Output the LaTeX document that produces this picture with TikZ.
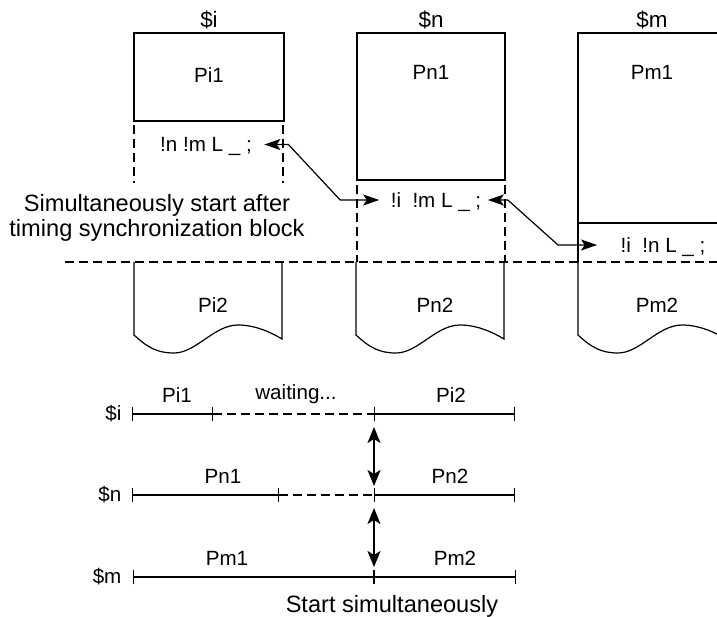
\documentclass[tikz,border=0pt]{standalone}
\usepackage{fontspec}
\setmainfont{Liberation Sans}
\usetikzlibrary{arrows.meta}
\tikzset{lbl/.style={font=\fontsize{10.3}{12}\selectfont,inner sep=0pt},
 col/.style={font=\fontsize{11.2}{13}\selectfont,inner sep=0pt,anchor=base},
 stmt/.style={lbl,text height=7.3pt,text depth=0pt},
 big/.style={font=\fontsize{11.8}{12.5}\selectfont,inner sep=0pt,align=center},
 wait/.style={dash pattern=on 4.5pt off 2.5pt},
 link/.style={{Stealth[length=8pt,width=5.5pt,inset=1.8pt]}-{Stealth[length=8pt,width=5.5pt,inset=1.8pt]}},
 sync/.style={{Stealth[length=8pt,width=6.5pt,inset=2pt]}-{Stealth[length=8pt,width=6.5pt,inset=2pt]},line width=0.85pt},
 run/.style={{Bar[width=7pt]}-{Bar[width=7pt]}}}
\begin{document}
\begin{tikzpicture}[x=0.5pt,y=-0.5pt,line width=0.6pt]
\clip (0,0) rectangle (717,616);
% processes before the block
\node[col] (ci) at (209,27) {\$i};
\node[col] (cn) at (431,27) {\$n};
\node[col] (cm) at (652,27) {\$m};
\draw (134,33) rectangle (284,121);
\node[lbl] (pi1) at (209,75) {Pi1};
\draw (357,33) rectangle (505,180);
\node[lbl] (pn1) at (431,72) {Pn1};
\draw (578,33) rectangle (726,223);
\draw (578,223) -- (578,262);
\node[lbl] (pm1) at (652,72) {Pm1};
% synchronization statements
\draw[wait] (134,125) -- (134,183) (283,125) -- (283,183);
\draw[wait] (357,185) -- (357,262) (505,185) -- (505,262);
\node[stmt] (si) at (206,144.5) {!n !m L \_ ;};
\node[stmt] (sn) at (436,200) {!i\ \ !m L \_ ;};
\node[stmt] (sm) at (663,245) {!i\ \ !n L \_ ;};
\draw[link] ([xshift=6pt]si.east) -- ++(24,0) -- ([xshift=-25pt]sn.west) -- ([xshift=-5.5pt]sn.west);
\draw[link] ([xshift=3pt]sn.east) -- ++(20,0) -- ([xshift=-31pt]sm.west) -- ([xshift=-11.5pt]sm.west);
\node[big] (note) at (157,218) {Simultaneously start after\\timing synchronization block};
\draw[wait] (65,262) -- (717,262);
% processes after the block
\foreach \x/\p in {134/i,356/n,578/m} {
  \draw (\x,262) -- (\x,335) .. controls (\x+14,348) and (\x+24,353) .. (\x+40,353)
    .. controls (\x+62,353) and (\x+80,325) .. (\x+104,325)
    .. controls (\x+122,325) and (\x+138,333) .. (\x+148,339) -- (\x+148,262);
  \node[lbl] (p\p2) at (\x+79,305) {P\p2};
}
% timing chart
\coordinate (i0) at (132,414); \coordinate (i1) at (213,414);
\coordinate (i2) at (374,414); \coordinate (i3) at (515,414);
\coordinate (n0) at (132,495); \coordinate (n1) at (279,495);
\coordinate (n2) at (374,495); \coordinate (n3) at (515,495);
\coordinate (m0) at (133,577); \coordinate (m1) at (374,577);
\coordinate (m2) at (516,577);
\node[lbl,anchor=east] (ti) at (122,414) {\$i};
\node[lbl,anchor=east] (tn) at (122,495) {\$n};
\node[lbl,anchor=east] (tm) at (122,577) {\$m};
\draw[run] (i0) -- (i1);
\draw[wait] (i1) -- (i2);
\draw[run] (i2) -- (i3);
\draw[run] (n0) -- (n1);
\draw[wait] (n1) -- (n2);
\draw[run] (n2) -- (n3);
\draw[run] (m0) -- (m1);
\draw[run] (m1) -- (m2);
\node[lbl,anchor=base] (li1) at (177,402) {Pi1};
\node[lbl,anchor=base] (lw) at (296,399) {waiting...};
\node[lbl,anchor=base] (li2) at (451,402) {Pi2};
\node[lbl,anchor=base] (ln1) at (223,483) {Pn1};
\node[lbl,anchor=base] (ln2) at (450,483) {Pn2};
\node[lbl,anchor=base] (lm1) at (227,565) {Pm1};
\node[lbl,anchor=base] (lm2) at (455,565) {Pm2};
\draw[sync] ([yshift=-6.5pt]i2) -- ([yshift=4.5pt]n2);
\draw[sync] ([yshift=-6.5pt]n2) -- ([yshift=5pt]m1);
\node[big,anchor=base] (start) at (392,612) {Start simultaneously};
\end{tikzpicture}
\end{document}
